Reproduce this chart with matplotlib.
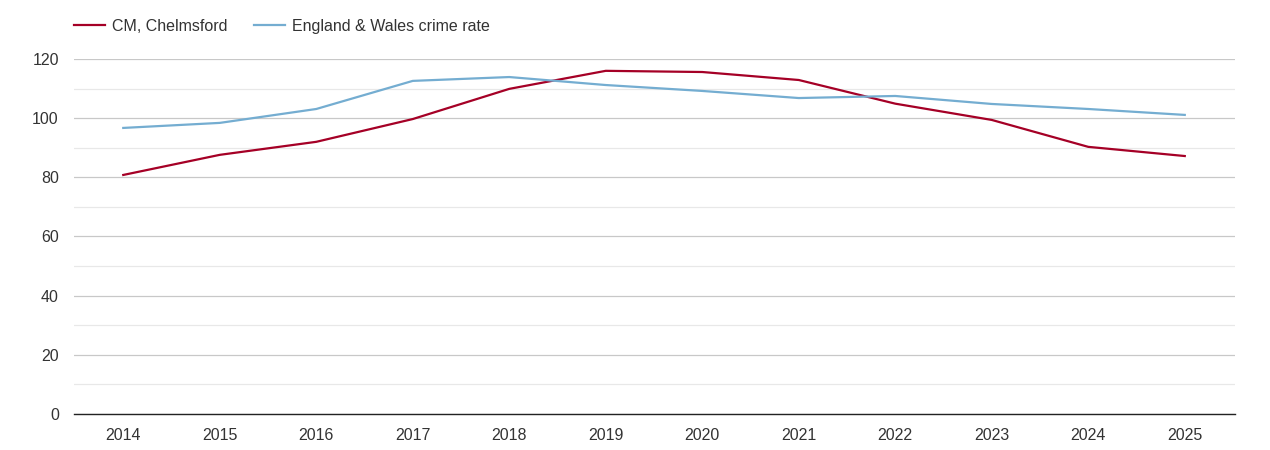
import matplotlib
matplotlib.use("Agg")
import matplotlib.pyplot as plt
from matplotlib.ticker import MultipleLocator

plt.rcParams["font.family"] = ["Liberation Sans", "DejaVu Sans"]

years = [2014, 2015, 2016, 2017, 2018, 2019, 2020, 2021, 2022, 2023, 2024, 2025]
chelmsford = [80.8, 87.6, 92.0, 99.7, 109.9, 116.0, 115.6, 112.9, 104.9, 99.4, 90.3, 87.2]
england_wales = [96.7, 98.4, 103.1, 112.6, 113.9, 111.2, 109.2, 106.8, 107.5, 104.8, 103.1, 101.1]

red = "#a50026"
blue = "#74add1"
text_col = "#333333"

fig = plt.figure(figsize=(12.7, 4.5), dpi=100)
ax = fig.add_axes([0.0583, 0.08, 0.9141, 0.7889])

ax.plot(years, chelmsford, color=red, lw=1.6, label="CM, Chelmsford", zorder=3)
ax.plot(years, england_wales, color=blue, lw=1.6, label="England & Wales crime rate", zorder=3)

ax.set_xlim(2013.49, 2025.52)
ax.set_ylim(0, 120)
ax.yaxis.set_major_locator(MultipleLocator(20))
ax.yaxis.set_minor_locator(MultipleLocator(10))
ax.set_xticks(years)
ax.set_xticklabels([str(y) for y in years])

ax.grid(which="major", axis="y", color="#c8c8c8", lw=0.9)
ax.grid(which="minor", axis="y", color="#e8e8e8", lw=0.9)
ax.set_axisbelow(True)

for s in ["top", "right", "left"]:
    ax.spines[s].set_visible(False)
ax.spines["bottom"].set_color("#222222")
ax.spines["bottom"].set_linewidth(1.0)

ax.tick_params(axis="both", which="both", length=0, labelsize=11.5, colors=text_col)
ax.tick_params(axis="x", pad=10)
ax.tick_params(axis="y", pad=11)

leg = fig.legend(loc="upper left", bbox_to_anchor=(0.047, 0.99), ncol=2, frameon=False,
                 fontsize=11.5, handlelength=1.95, handletextpad=0.4, columnspacing=1.7)
for t in leg.get_texts():
    t.set_color(text_col)

fig.savefig("out.png", dpi=100)
